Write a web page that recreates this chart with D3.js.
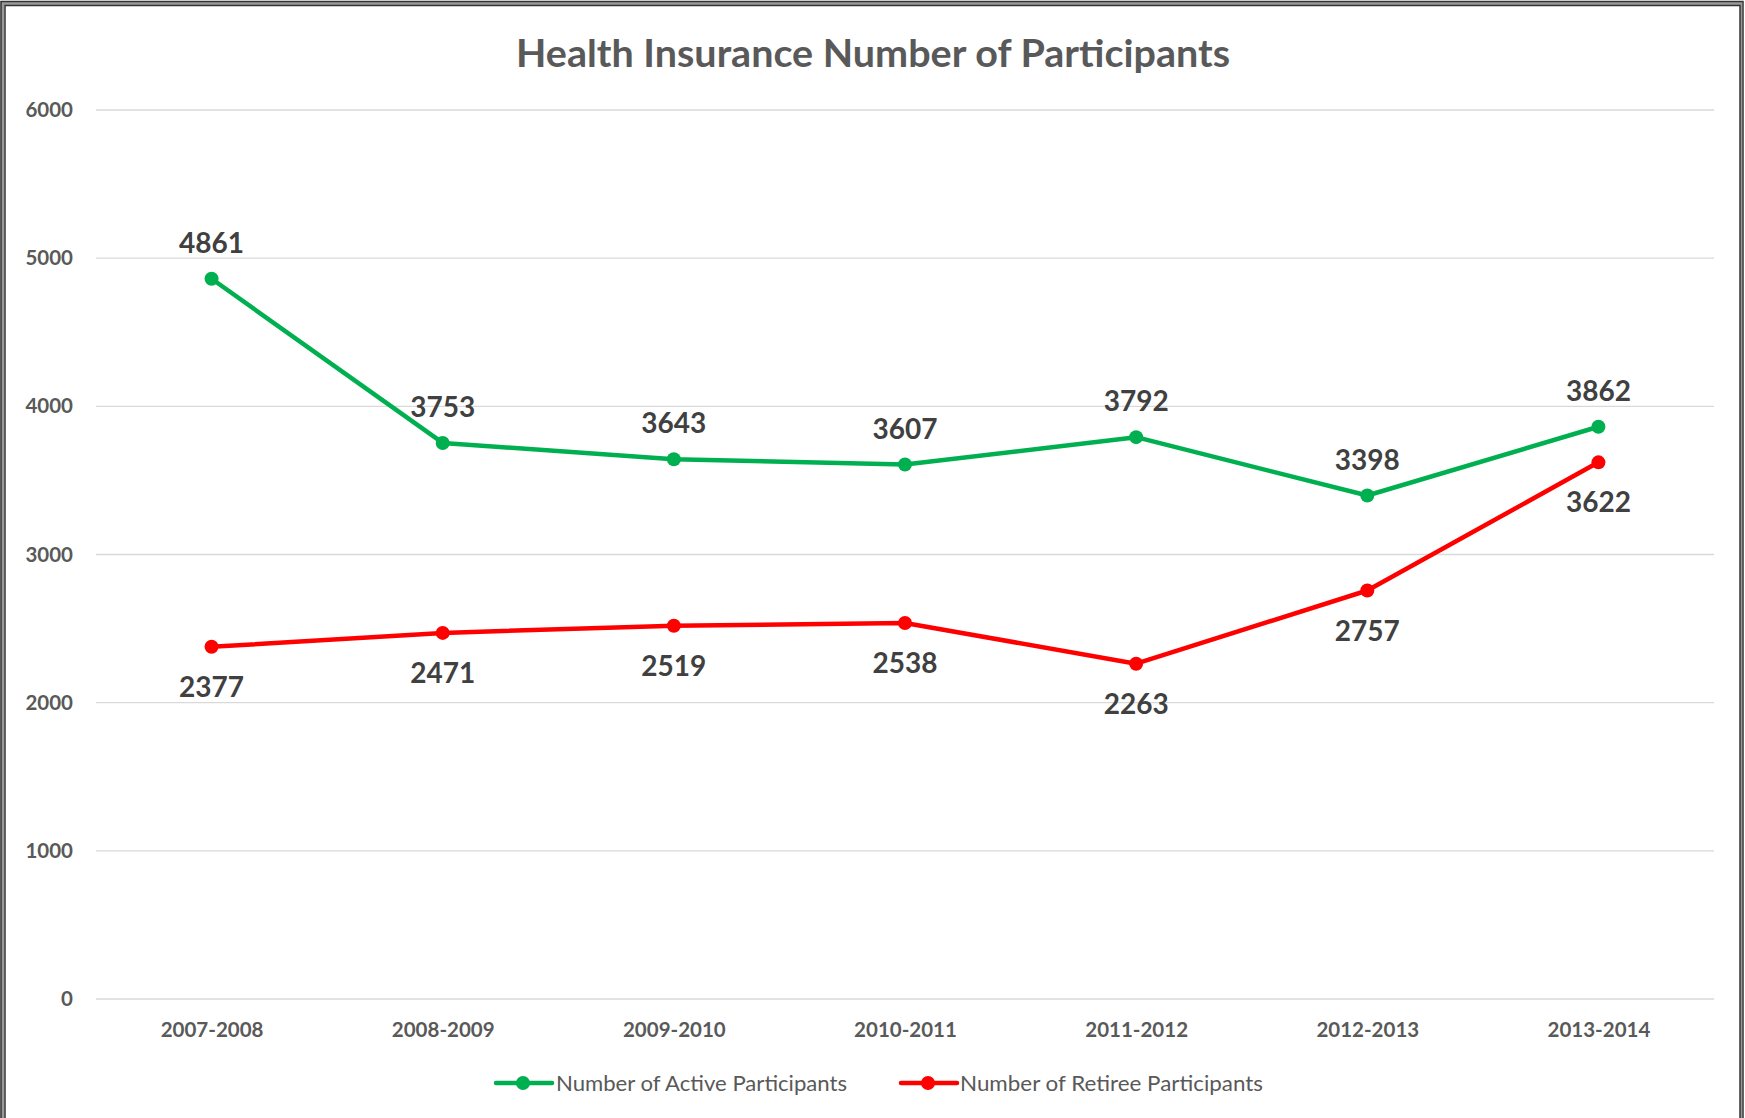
<!DOCTYPE html>
<html>
<head>
<meta charset="utf-8">
<script src="https://cdn.jsdelivr.net/npm/d3@7"></script>
<style>
  html, body { margin: 0; padding: 0; background: #fff; }
  svg { display: block; }
</style>
</head>
<body>
<svg id="chart" width="1745" height="1118"></svg>
<script>
const title = "Health Insurance Number of Participants";
const categories = ["2007-2008", "2008-2009", "2009-2010", "2010-2011", "2011-2012", "2012-2013", "2013-2014"];
const activeValues = [4861, 3753, 3643, 3607, 3792, 3398, 3862];
const retireeValues = [2377, 2471, 2519, 2538, 2263, 2757, 3622];
const yTicks = [0, 1000, 2000, 3000, 4000, 5000, 6000];
const seriesNames = ["Number of Active Participants", "Number of Retiree Participants"];
const seriesColors = ["#00B050", "#FF0000"];

const svg = d3.select("#chart");
const plot = { left: 96, right: 1714, top: 110, bottom: 999 };
const FONT = "Lato, 'Open Sans', sans-serif";

// frame
svg.append("rect").attr("x", 2.5).attr("y", 3).attr("width", 1738).attr("height", 1140)
  .attr("fill", "none").attr("stroke", "#9a9a9a").attr("stroke-width", 4);
svg.append("rect").attr("x", 1).attr("y", 1.5).attr("width", 1742).attr("height", 1140)
  .attr("fill", "none").attr("stroke", "#333").attr("stroke-width", 1.5);
svg.append("rect").attr("x", 5).attr("y", 5.5).attr("width", 1735).attr("height", 1140)
  .attr("fill", "#fff").attr("stroke", "#333").attr("stroke-width", 1.5);

const x = d3.scalePoint().domain(categories).range([plot.left, plot.right]).padding(0.5);
const y = d3.scaleLinear().domain([0, 6000]).range([plot.bottom, plot.top]);

// gridlines
svg.append("g").selectAll("line").data(yTicks).join("line")
  .attr("x1", plot.left).attr("x2", plot.right)
  .attr("y1", d => y(d)).attr("y2", d => y(d))
  .attr("stroke", "#D9D9D9").attr("stroke-width", 1.3);

// y axis
const yAxis = d3.axisLeft(y).tickValues(yTicks).tickSize(0).tickPadding(23).tickFormat(d3.format("d"));
const gy = svg.append("g").attr("transform", `translate(${plot.left},0)`).call(yAxis);
gy.select(".domain").remove();
gy.selectAll("text").attr("font-family", FONT).attr("font-weight", "bold")
  .attr("font-size", 20.5).attr("fill", "#595959");

// x axis
const xAxis = d3.axisBottom(x).tickSize(0).tickPadding(23);
const gx = svg.append("g").attr("transform", `translate(0,${plot.bottom})`).call(xAxis);
gx.select(".domain").remove();
gx.selectAll("text").attr("font-family", FONT).attr("font-weight", "bold")
  .attr("font-size", 20.5).attr("fill", "#595959");

// title
svg.append("text").attr("x", 873).attr("y", 67).attr("text-anchor", "middle")
  .attr("font-family", FONT).attr("font-weight", "bold").attr("font-size", 38)
  .attr("fill", "#595959").attr("textLength", 714).attr("lengthAdjust", "spacingAndGlyphs")
  .text(title);

const series = [
  { name: seriesNames[0], color: seriesColors[0], values: activeValues, above: true },
  { name: seriesNames[1], color: seriesColors[1], values: retireeValues, above: false }
];

const line = d3.line().x((d, i) => x(categories[i])).y(d => y(d));

series.forEach(s => {
  const g = svg.append("g");
  g.append("path").datum(s.values).attr("d", line)
    .attr("fill", "none").attr("stroke", s.color).attr("stroke-width", 4.5)
    .attr("stroke-linejoin", "round");
  g.selectAll("circle").data(s.values).join("circle")
    .attr("cx", (d, i) => x(categories[i])).attr("cy", d => y(d))
    .attr("r", 7).attr("fill", s.color);
  g.selectAll("text").data(s.values).join("text")
    .attr("x", (d, i) => x(categories[i]))
    .attr("y", d => s.above ? y(d) - 26 : y(d) + 50)
    .attr("text-anchor", "middle")
    .attr("font-family", FONT).attr("font-weight", "bold").attr("font-size", 28)
    .attr("fill", "#404040")
    .text(d => d);
});

// legend
const legendItems = [
  { x0: 496, tx: 556, tl: 291 },
  { x0: 901, tx: 960, tl: 303 }
];
const ly = 1083;
series.forEach((s, i) => {
  const li = legendItems[i];
  const g = svg.append("g");
  g.append("line").attr("x1", li.x0).attr("x2", li.x0 + 56).attr("y1", ly).attr("y2", ly)
    .attr("stroke", s.color).attr("stroke-width", 4.5).attr("stroke-linecap", "round");
  g.append("circle").attr("cx", li.x0 + 27).attr("cy", ly).attr("r", 7).attr("fill", s.color);
  g.append("text").attr("x", li.tx).attr("y", ly + 8)
    .attr("font-family", FONT).attr("font-size", 21.5).attr("fill", "#595959")
    .attr("textLength", li.tl).attr("lengthAdjust", "spacingAndGlyphs")
    .text(s.name);
});
</script>
</body>
</html>
